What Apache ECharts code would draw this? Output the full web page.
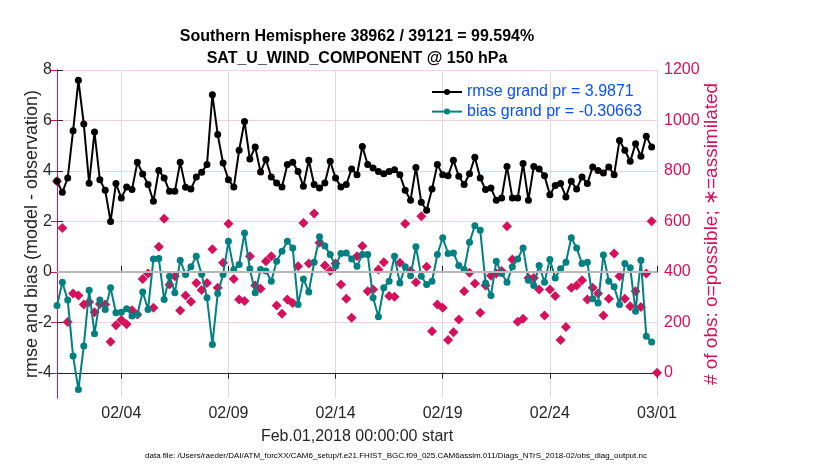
<!DOCTYPE html>
<html>
<head>
<meta charset="utf-8">
<script src="https://cdn.jsdelivr.net/npm/echarts@6/dist/echarts.min.js"></script>
<style>html,body{margin:0;padding:0;background:#fff}#c{width:830px;height:470px}</style>
</head>
<body>
<div id="c"></div>
<script>
// x positions: one value every 6 hours starting Feb 01 00:00 (in days)
const stepDays = 0.25;
const tickDays = [3, 8, 13, 18, 23, 28];
const tickLabels = ['02/04', '02/09', '02/14', '02/19', '02/24', '03/01'];
const leftTicks = [-4, -2, 0, 2, 4, 6, 8];
const rightTicks = [0, 200, 400, 600, 800, 1000, 1200];
const legendNames = ['rmse grand pr = 3.9871', 'bias grand pr = -0.30663'];

const rmse = [3.60,3.15,3.72,5.59,7.59,5.86,3.51,5.54,3.65,3.23,2.00,3.50,2.93,3.36,3.26,4.34,3.88,3.46,2.80,4.02,
3.72,3.19,3.19,4.34,3.35,3.28,3.76,3.95,4.25,7.02,5.44,4.31,3.65,3.36,4.82,5.96,4.47,4.95,3.96,4.45,
3.76,3.52,3.36,4.25,4.34,3.98,3.39,4.42,3.46,3.32,3.52,4.38,3.72,3.36,3.46,4.08,3.85,4.97,4.25,4.12,
3.98,3.89,3.98,4.05,3.85,3.23,2.84,4.14,2.76,2.44,3.28,4.25,3.85,3.81,4.42,3.79,3.46,3.89,4.54,3.72,
3.26,3.32,2.84,2.93,4.18,2.93,2.93,4.29,2.84,4.18,4.08,3.81,3.06,3.42,3.50,2.97,3.59,3.28,3.76,3.50,
4.16,4.02,3.92,4.16,3.85,5.21,4.82,4.38,5.08,4.58,5.37,4.95,null];

const bias = [-1.33,-0.41,-1.12,-3.34,-4.66,-2.94,-0.73,-2.45,-1.12,-1.49,-0.63,-1.62,-1.60,-1.46,-1.75,-1.69,-0.80,-1.49,0.51,0.53,
-1.10,-0.17,-0.83,0.46,-0.11,0.20,0.62,-0.10,-1.03,-2.88,-0.86,-0.11,1.21,0.09,0.29,1.54,0.12,-0.83,0.09,0.03,
-0.37,0.42,0.82,1.21,0.95,-1.29,-0.28,-0.80,0.38,1.39,1.02,0.69,0.22,0.73,0.75,0.51,0.22,0.69,0.69,-1.03,
-1.78,-0.63,-0.37,0.62,-0.44,0.20,-0.15,0.99,-0.17,-0.50,-0.37,0.69,1.35,0.73,0.75,0.25,0.09,1.17,1.83,1.65,
-0.44,-0.94,0.42,-0.07,-0.41,0.20,0.51,0.95,-0.33,-0.54,0.25,-0.41,0.49,-0.24,0.12,0.38,1.35,0.95,0.33,0.38,
-1.07,-1.23,0.67,-0.37,-0.59,-1.29,0.33,0.16,-1.56,0.46,-2.55,-2.78,null];

const obsCount = [759,574,201,314,306,271,280,240,273,271,123,188,209,192,248,231,372,393,258,499,
610,350,383,247,306,281,356,328,356,490,337,436,591,372,290,284,462,346,333,442,
462,267,234,290,277,422,594,433,631,515,425,403,433,350,293,218,462,502,323,330,
409,438,304,301,436,591,403,359,620,420,165,271,258,130,161,211,323,396,354,238,
346,385,393,403,581,449,202,214,376,376,330,227,330,304,130,181,337,346,367,290,
337,314,227,293,473,383,293,264,323,261,393,601,0];

const FONT = '"Liberation Sans", Arial, Helvetica, sans-serif';
const INK = '#262626';
const MAG = '#d6105a';
const TEAL = '#008080';
const xy = arr => arr.map((v, i) => [i * stepDays, v]);

const chart = echarts.init(document.getElementById('c'));
chart.setOption({
  animation: false,
  backgroundColor: '#ffffff',
  grid: { left: 57, right: 173, top: 70, bottom: 72, containLabel: false },
  legend: {
    orient: 'vertical', left: 426, top: 79,
    itemWidth: 30, itemHeight: 7.5, itemGap: 3.6,
    data: legendNames,
    textStyle: { color: '#0a50ff', fontSize: 16, fontFamily: FONT, lineHeight: 16 }
  },
  graphic: [
    { type: 'text', x: 357, y: 37, style: { text: 'Southern Hemisphere 38962 / 39121 = 99.594%', font: 'bold 16px ' + FONT, fill: '#000', align: 'center', textAlign: 'center', verticalAlign: 'middle', textVerticalAlign: 'middle' } },
    { type: 'text', x: 357, y: 59, style: { text: 'SAT_U_WIND_COMPONENT @ 150 hPa', font: 'bold 16px ' + FONT, fill: '#000', align: 'center', textAlign: 'center', verticalAlign: 'middle', textVerticalAlign: 'middle' } },
    { type: 'text', x: 396, y: 455.5, style: { text: 'data file: /Users/raeder/DAI/ATM_forcXX/CAM6_setup/f.e21.FHIST_BGC.f09_025.CAM6assim.011/Diags_NTrS_2018-02/obs_diag_output.nc', font: '8px ' + FONT, fill: '#000', align: 'center', textAlign: 'center', verticalAlign: 'middle', textVerticalAlign: 'middle' } }
  ],
  xAxis: [
    {
      type: 'value', min: 0, max: 28, position: 'bottom',
      axisLine: { show: true, lineStyle: { color: INK, width: 1 } },
      axisTick: { show: true, inside: true, length: 6, customValues: tickDays, lineStyle: { color: INK } },
      axisLabel: { customValues: tickDays, formatter: v => tickLabels[tickDays.indexOf(v)], color: INK, fontSize: 16, fontFamily: FONT, margin: 8 },
      splitLine: { show: true, lineStyle: { color: '#dcdcdc', width: 1 } },
      name: 'Feb.01,2018 00:00:00 start', nameLocation: 'middle', nameGap: 31, nameMoveOverlap: false,
      nameTextStyle: { color: INK, fontSize: 16, fontFamily: FONT }
    },
    {
      type: 'value', min: 0, max: 28, position: 'top',
      axisLine: { show: true, lineStyle: { color: INK, width: 1 } },
      axisTick: { show: true, inside: true, length: 6, customValues: tickDays, lineStyle: { color: INK } },
      axisLabel: { show: false },
      splitLine: { show: false }
    }
  ],
  yAxis: [
    {
      type: 'value', min: -5, max: 8, position: 'left',
      axisLine: { show: true, lineStyle: { color: INK, width: 1 } },
      axisTick: { show: true, inside: true, length: 6, customValues: leftTicks, lineStyle: { color: INK } },
      axisLabel: { customValues: leftTicks, color: INK, fontSize: 16, fontFamily: FONT, margin: 5 },
      splitLine: { show: false },
      name: 'rmse and bias (model - observation)', nameLocation: 'middle', nameGap: 16, nameRotate: 90, nameMoveOverlap: false,
      nameTextStyle: { color: INK, fontSize: 18, fontFamily: FONT }
    },
    {
      type: 'value', min: -100, max: 1200, position: 'right',
      axisLine: { show: true, lineStyle: { color: MAG, width: 1 } },
      axisTick: { show: true, inside: true, length: 6, customValues: rightTicks, lineStyle: { color: MAG } },
      axisLabel: { customValues: rightTicks, formatter: v => String(v), color: MAG, fontSize: 16, fontFamily: FONT, margin: 7 },
      splitLine: { show: true, lineStyle: { color: '#f3d0dd', width: 1 } },
      name: '# of obs: o=possible; \u2217=assimilated', nameLocation: 'middle', nameGap: 45, nameRotate: 90, nameMoveOverlap: false,
      nameTextStyle: { color: MAG, fontSize: 19, fontFamily: FONT }
    }
  ],
  series: [
    {
      name: 'obs count', type: 'scatter', yAxisIndex: 1, xAxisIndex: 0, z: 2,
      symbol: 'diamond', symbolSize: 10, clip: false,
      itemStyle: { color: MAG, opacity: 1 },
      data: xy(obsCount)
    },
    {
      name: legendNames[1], type: 'line', yAxisIndex: 0, xAxisIndex: 0, z: 3,
      symbol: 'circle', symbolSize: 7, showSymbol: true,
      lineStyle: { color: TEAL, width: 2 }, itemStyle: { color: TEAL },
      data: xy(bias),
      markLine: {
        silent: true, symbol: 'none', label: { show: false },
        lineStyle: { color: '#b8b8b8', width: 2, type: 'solid' },
        data: [{ yAxis: 0 }]
      }
    },
    {
      name: legendNames[0], type: 'line', yAxisIndex: 0, xAxisIndex: 0, z: 4,
      symbol: 'circle', symbolSize: 7, showSymbol: true,
      lineStyle: { color: '#000', width: 2 }, itemStyle: { color: '#000' },
      data: xy(rmse)
    }
  ]
});
</script>
</body>
</html>
